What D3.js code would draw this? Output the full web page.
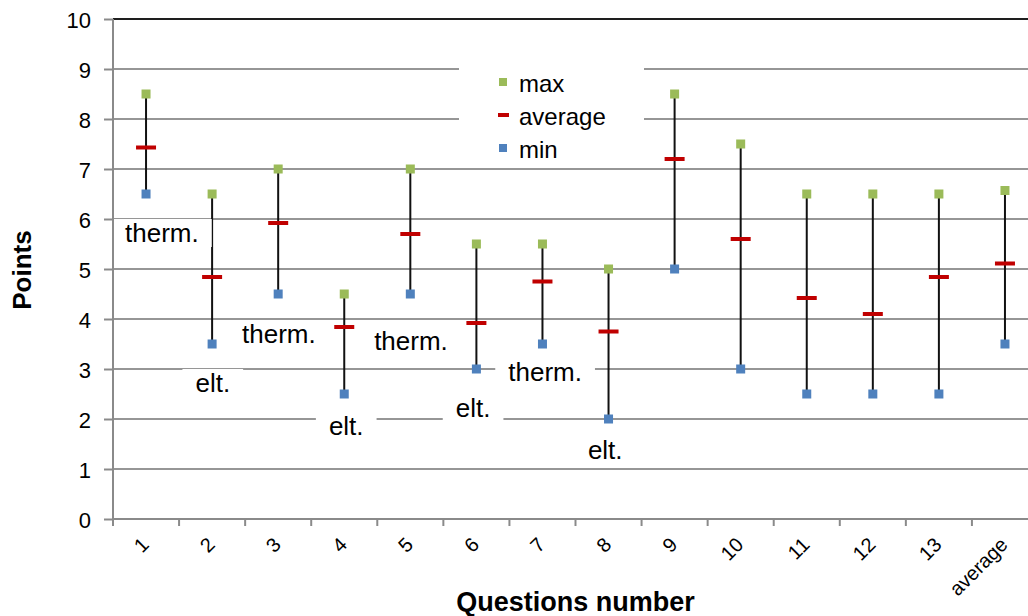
<!DOCTYPE html>
<html>
<head>
<meta charset="utf-8">
<script src="https://cdn.jsdelivr.net/npm/d3@7"></script>
<style>
  html, body { margin: 0; padding: 0; background: #fff; }
  svg { display: block; font-family: Arial, "Liberation Sans", sans-serif; }
</style>
</head>
<body>
<svg id="chart" width="1028" height="616"></svg>
<script>
// Question scores: maximum, average and minimum points per question
const questions = ["1", "2", "3", "4", "5", "6", "7", "8", "9", "10", "11", "12", "13", "average"];
const maxPoints = [8.5, 6.5, 7.0, 4.5, 7.0, 5.5, 5.5, 5.0, 8.5, 7.5, 6.5, 6.5, 6.5, 6.57];
const avgPoints = [7.43, 4.84, 5.92, 3.84, 5.70, 3.92, 4.75, 3.75, 7.20, 5.60, 4.42, 4.10, 4.84, 5.11];
const minPoints = [6.5, 3.5, 4.5, 2.5, 4.5, 3.0, 3.5, 2.0, 5.0, 3.0, 2.5, 2.5, 2.5, 3.5];
const yTicks = [0, 1, 2, 3, 4, 5, 6, 7, 8, 9, 10];

// Topic notes (text, position along the question axis, baseline value)
const noteText = ["therm.", "elt.", "therm.", "elt.", "therm.", "elt.", "therm.", "elt."];
const noteAt = [0.74, 1.51, 2.51, 3.53, 4.51, 5.45, 6.54, 7.45];
const noteValue = [5.54, 2.54, 3.52, 1.68, 3.38, 2.04, 2.76, 1.20];

const legendLabels = ["max", "average", "min"];

(function draw() {
  const colors = { max: "#9bbb59", avg: "#c00000", min: "#4f81bd" };

  const svg = d3.select("#chart");
  const plotLeft = 113, plotRight = 1038, plotTop = 19, plotBottom = 519;

  const x = d3.scaleBand().domain(questions).range([plotLeft, plotRight]);
  const xPos = d3.scaleLinear().domain([0, questions.length]).range([plotLeft, plotRight]);
  const y = d3.scaleLinear().domain([0, 10]).range([plotBottom, plotTop]);
  const cx = q => x(q) + x.bandwidth() / 2;

  // Horizontal gridlines
  svg.append("g")
    .selectAll("line")
    .data(yTicks.filter(t => t > 0))
    .join("line")
    .attr("x1", plotLeft).attr("x2", 1028)
    .attr("y1", d => y(d)).attr("y2", d => y(d))
    .attr("stroke", d => d === 10 ? "#1e1e1e" : "#969696")
    .attr("stroke-width", 2);

  // Whiskers from min to max with markers
  const rows = questions.map((q, i) => ({ q, max: maxPoints[i], avg: avgPoints[i], min: minPoints[i] }));
  const marks = svg.append("g");
  marks.selectAll("line.range")
    .data(rows)
    .join("line")
    .attr("class", "range")
    .attr("x1", d => cx(d.q)).attr("x2", d => cx(d.q))
    .attr("y1", d => y(d.max)).attr("y2", d => y(d.min))
    .attr("stroke", "#111").attr("stroke-width", 2);

  marks.selectAll("rect.max")
    .data(rows)
    .join("rect")
    .attr("class", "max")
    .attr("x", d => cx(d.q) - 4.5).attr("y", d => y(d.max) - 4.5)
    .attr("width", 9).attr("height", 9)
    .attr("fill", colors.max);

  marks.selectAll("rect.min")
    .data(rows)
    .join("rect")
    .attr("class", "min")
    .attr("x", d => cx(d.q) - 4.5).attr("y", d => y(d.min) - 4.5)
    .attr("width", 9).attr("height", 9)
    .attr("fill", colors.min);

  marks.selectAll("rect.avg")
    .data(rows)
    .join("rect")
    .attr("class", "avg")
    .attr("x", d => cx(d.q) - 10).attr("y", d => y(d.avg) - 2)
    .attr("width", 20).attr("height", 4)
    .attr("fill", colors.avg);

  // Topic notes on white boxes
  const notes = svg.append("g");
  noteText.forEach((t, i) => {
    const g = notes.append("g");
    const box = g.append("rect").attr("fill", "#fff");
    const txt = g.append("text")
      .attr("x", xPos(noteAt[i]))
      .attr("y", y(noteValue[i]))
      .attr("text-anchor", "middle")
      .attr("font-size", 26)
      .attr("fill", "#000")
      .text(t);
    const bb = txt.node().getBBox();
    box.attr("x", bb.x - 13).attr("y", bb.y + 1)
       .attr("width", bb.width + 26).attr("height", bb.height - 2);
  });

  // Legend
  const legend = svg.append("g");
  legend.append("rect")
    .attr("x", 459).attr("y", 60).attr("width", 185).attr("height", 102)
    .attr("fill", "#fff");
  const legendY = [82, 115, 148];
  legendLabels.forEach((lab, i) => {
    if (i === 1) {
      legend.append("rect").attr("x", 498).attr("y", legendY[i] - 2)
        .attr("width", 11).attr("height", 4).attr("fill", colors.avg);
    } else {
      legend.append("rect").attr("x", 499).attr("y", legendY[i] - 4)
        .attr("width", 8).attr("height", 8).attr("fill", i === 0 ? colors.max : colors.min);
    }
    legend.append("text")
      .attr("x", 519).attr("y", legendY[i] + 10)
      .attr("font-size", 24).attr("fill", "#000")
      .text(lab);
  });

  // Y axis
  const yAxis = svg.append("g").attr("transform", `translate(${plotLeft},0)`)
    .call(d3.axisLeft(y).tickValues(yTicks).tickSize(9).tickPadding(13).tickFormat(d3.format("d")));
  yAxis.select(".domain").attr("stroke", "#8a8a8a").attr("stroke-width", 2).attr("d", `M0,${plotTop}V${plotBottom}`);
  yAxis.selectAll(".tick line").attr("stroke", "#8a8a8a").attr("stroke-width", 2);
  yAxis.selectAll(".tick text")
    .attr("font-size", 22).attr("font-family", "Arial, 'Liberation Sans', sans-serif")
    .attr("fill", "#000").attr("dy", "0.38em");

  // X axis with ticks on category boundaries
  const xg = svg.append("g");
  xg.append("line")
    .attr("x1", plotLeft - 1).attr("x2", 1028)
    .attr("y1", plotBottom).attr("y2", plotBottom)
    .attr("stroke", "#8a8a8a").attr("stroke-width", 2);
  xg.selectAll("line.tk")
    .data(d3.range(questions.length + 1))
    .join("line")
    .attr("class", "tk")
    .attr("x1", i => xPos(i)).attr("x2", i => xPos(i))
    .attr("y1", plotBottom).attr("y2", plotBottom + 7)
    .attr("stroke", "#8a8a8a").attr("stroke-width", 2);
  xg.selectAll("text")
    .data(questions)
    .join("text")
    .attr("transform", q => `translate(${cx(q) + 4},546) rotate(-45)`)
    .attr("text-anchor", "end")
    .attr("font-size", 20)
    .attr("fill", "#000")
    .text(q => q);

  // Axis titles
  svg.append("text")
    .attr("transform", `translate(31,${(plotTop + plotBottom) / 2 + 1}) rotate(-90)`)
    .attr("text-anchor", "middle")
    .attr("font-size", 26).attr("font-weight", "bold")
    .text("Points");
  svg.append("text")
    .attr("x", (plotLeft + plotRight) / 2).attr("y", 611)
    .attr("text-anchor", "middle")
    .attr("font-size", 27).attr("font-weight", "bold")
    .text("Questions number");
})();
</script>
</body>
</html>
